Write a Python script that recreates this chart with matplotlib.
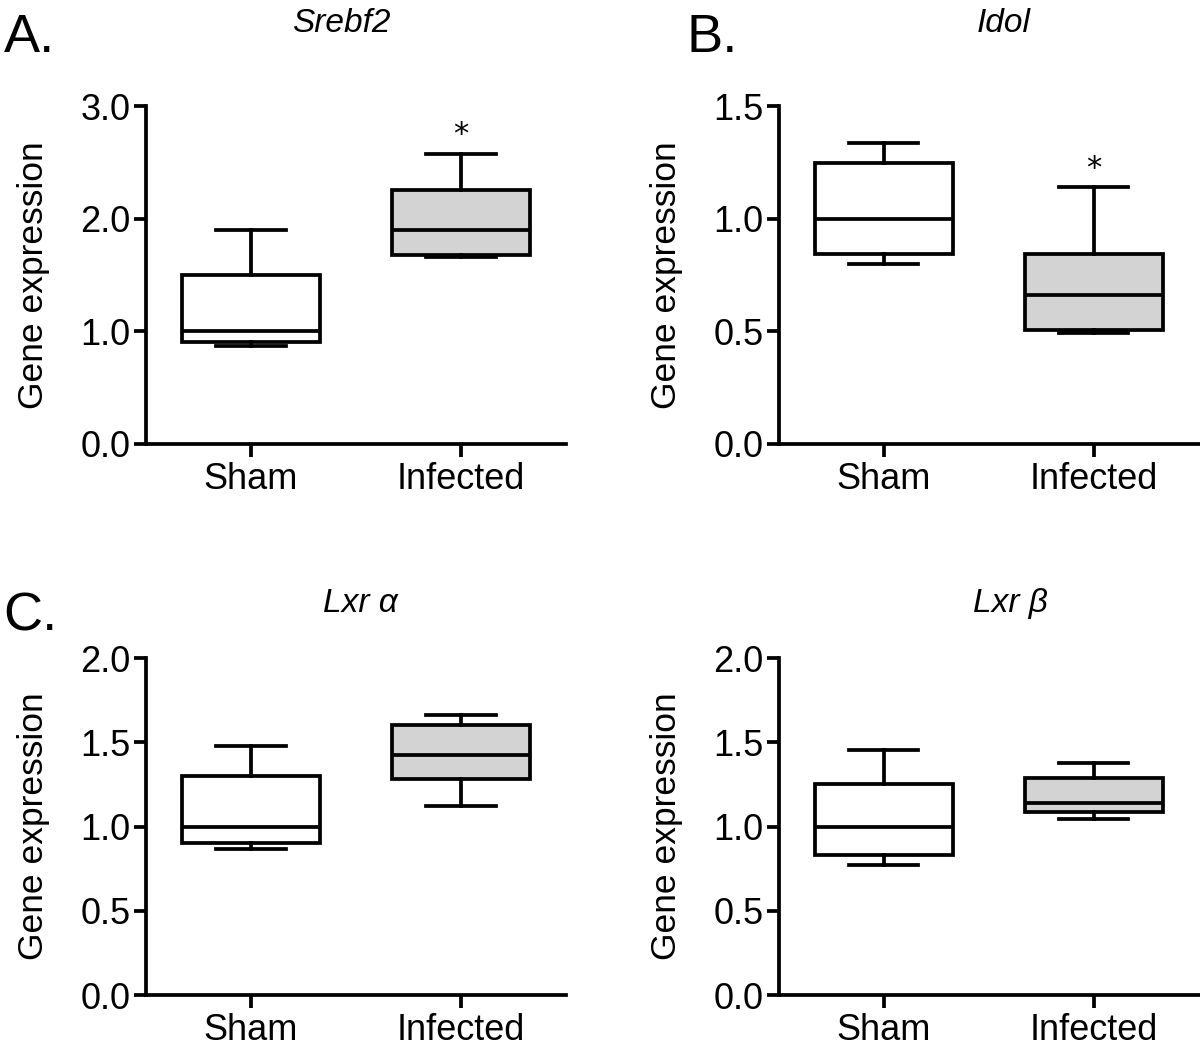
import matplotlib.pyplot as plt

plt.rcParams['font.family'] = ['Liberation Sans', 'DejaVu Sans']

groups = ['Sham', 'Infected']
box_fill = ['white', '#d3d3d3']

titles = ['Srebf2', 'Idol', 'Lxr α', 'Lxr β']
letters = ['A.', 'B.', 'C.', '']
ymax = [3.0, 1.5, 2.0, 2.0]
ystep = [1.0, 0.5, 0.5, 0.5]
stars = [[False, True], [False, True], [False, False], [False, False]]

# min, q1, median, q3, max for Sham / Infected in each panel
srebf2_sham = [0.87, 0.91, 1.00, 1.50, 1.90]
srebf2_inf = [1.66, 1.68, 1.90, 2.26, 2.58]
idol_sham = [0.80, 0.845, 1.00, 1.25, 1.335]
idol_inf = [0.495, 0.505, 0.66, 0.845, 1.14]
lxra_sham = [0.87, 0.90, 1.00, 1.30, 1.48]
lxra_inf = [1.12, 1.28, 1.425, 1.60, 1.665]
lxrb_sham = [0.77, 0.83, 1.00, 1.25, 1.455]
lxrb_inf = [1.045, 1.085, 1.14, 1.29, 1.375]

panels = [[srebf2_sham, srebf2_inf], [idol_sham, idol_inf],
          [lxra_sham, lxra_inf], [lxrb_sham, lxrb_inf]]

# axes rectangles in figure fraction
rects = [[0.1217, 0.578, 0.35, 0.321], [0.649, 0.578, 0.35, 0.321],
         [0.1217, 0.054, 0.35, 0.3205], [0.649, 0.054, 0.35, 0.3205]]
title_xy = [(0.284, 0.978), (0.836, 0.978), (0.30, 0.426), (0.842, 0.426)]
letter_xy = [(0.003, 0.9506), (0.572, 0.9506), (0.003, 0.401), (0.572, 0.401)]

fig = plt.figure(figsize=(12, 10.52), dpi=100)
lw = 2.7

for k in range(4):
    ax = fig.add_axes(rects[k])
    stats = []
    for i, v in enumerate(panels[k]):
        stats.append({'whislo': v[0], 'q1': v[1], 'med': v[2], 'q3': v[3],
                      'whishi': v[4], 'label': groups[i]})
    bp = ax.bxp(stats, positions=[1, 2], widths=0.66, showfliers=False,
                patch_artist=True,
                boxprops=dict(linewidth=lw, edgecolor='black'),
                medianprops=dict(linewidth=lw, color='black'),
                whiskerprops=dict(linewidth=lw, color='black'),
                capprops=dict(linewidth=lw, color='black'),
                capwidths=0.33)
    for patch, c in zip(bp['boxes'], box_fill):
        patch.set_facecolor(c)
    for i in range(2):
        if stars[k][i]:
            ax.annotate('*', xy=(i + 1, panels[k][i][4]), xytext=(0, 3),
                        textcoords='offset points', ha='center', va='bottom',
                        fontsize=22, family='DejaVu Sans')
    ax.set_xlim(0.5, 2.5)
    ax.set_ylim(0, ymax[k])
    ticks = [j * ystep[k] for j in range(int(round(ymax[k] / ystep[k])) + 1)]
    ax.set_yticks(ticks)
    ax.set_yticklabels(['%.1f' % t for t in ticks])
    ax.set_xticks([1, 2])
    ax.set_xticklabels(groups)
    for s in ['top', 'right']:
        ax.spines[s].set_visible(False)
    for s in ['left', 'bottom']:
        ax.spines[s].set_linewidth(lw)
    ax.tick_params(axis='both', direction='out', length=9, width=lw,
                   labelsize=26)
    ax.tick_params(axis='y', pad=2)
    ax.tick_params(axis='x', pad=4)
    ax.set_ylabel('Gene expression', fontsize=25.5, labelpad=22)
    fig.text(title_xy[k][0], title_xy[k][1], titles[k], style='italic',
             fontsize=24, ha='center', va='center')
    if letters[k]:
        fig.text(letter_xy[k][0], letter_xy[k][1], letters[k], fontsize=39,
                 ha='left', va='baseline')

fig.savefig('out.png', dpi=100)
